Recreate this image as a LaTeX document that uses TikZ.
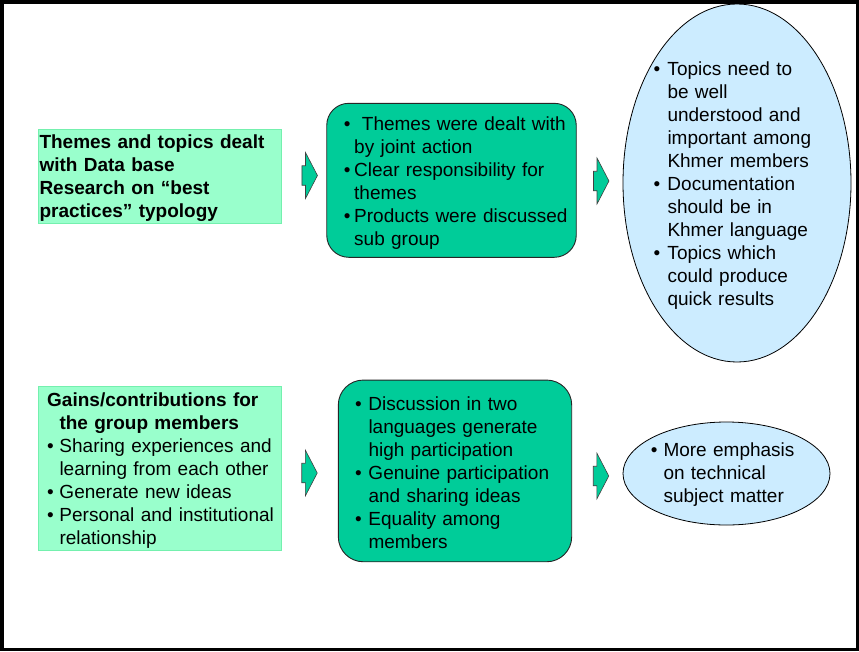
\documentclass[tikz,border=0pt]{standalone}
\usepackage{fontspec}
\setmainfont{Liberation Sans}
\usetikzlibrary{shapes.geometric}

\definecolor{mint}{HTML}{99FFCC}
\definecolor{mintedge}{HTML}{74F0AE}
\definecolor{boxteal}{HTML}{00CC99}
\definecolor{skyfill}{HTML}{CCECFF}

% bulleted paragraph with hanging indent: #1 = indent, #2 = text
\newcommand{\bulletitem}[2]{\hangindent=#1\hangafter=1\noindent\makebox[#1][l]{•}\strut#2\par}
% unbulleted paragraph with the same hanging indent
\newcommand{\hangpara}[2]{\hangindent=#1\hangafter=1\noindent\strut#2\par}

\tikzset{
  lightbox/.style={draw=mintedge, fill=mint, line width=0.9pt, inner sep=0pt},
  tealbox/.style={draw=black!85, fill=boxteal, line width=0.9pt, inner sep=0pt},
  bubble/.style={ellipse, draw=black, fill=skyfill, line width=0.8pt, inner sep=0pt},
  bodytext/.style={anchor=north west, inner sep=0pt, align=left, text width=260pt,
    font=\fontsize{19}{23}\selectfont},
  arrowshape/.style={draw=black!75, fill=boxteal, line width=0.6pt},
  pics/blockarrow/.style={code={
    \path[arrowshape] (-7.75,-9.75) -- (-4.2,-9.75) -- (-4.2,-23) -- (7.75,0)
      -- (-4.2,23) -- (-4.2,9.75) -- (-7.75,9.75) -- cycle;
  }},
}

\begin{document}
\begin{tikzpicture}[x=1pt, y=-1pt]
\useasboundingbox (0,0) rectangle (859,651);

% outer frame
\draw[line width=3.5pt] (1.75,1.75) rectangle (857.25,649.25);

% ---- upper row ----
\node[lightbox, minimum width=243pt, minimum height=94pt] (themes) at (159.5,176) {};
\node[bodytext] (themestext) at (39.3,132.5) {\bfseries\strut Themes and topics dealt\newline
  with Data base\newline Research on “best\newline practices” typology};

\pic (arrowA) at (309.7,175.5) {blockarrow};

\node[tealbox, rounded corners=22pt, minimum width=249.5pt, minimum height=154pt] (joint) at (451.5,180.3) {};
\node[bodytext] (jointtext) at (343.7,114.4) {%
  \bulletitem{10.3pt}{\hspace*{7.7pt}Themes were dealt with\newline by joint action}%
  \bulletitem{10.3pt}{Clear responsibility for\newline themes}%
  \bulletitem{10.3pt}{Products were discussed\newline sub group}};

\pic (arrowB) at (601.2,181) {blockarrow};

\node[bubble, minimum width=228pt, minimum height=358pt] (needs) at (737,183) {};
\node[bodytext] (needstext) at (653.4,58.9) {%
  \bulletitem{13.9pt}{Topics need to\newline be well\newline understood and\newline
    important among\newline Khmer members}%
  \bulletitem{13.9pt}{Documentation\newline should be in\newline Khmer language}%
  \bulletitem{13.9pt}{Topics which\newline could produce\newline quick results}};

% ---- lower row ----
\node[lightbox, minimum width=243pt, minimum height=164pt] (gains) at (159.5,468) {};
\node[bodytext] (gainstext) at (47,390.4) {%
  \hangpara{12.3pt}{{\bfseries Gains/contributions for\newline the group members}}%
  \bulletitem{12.3pt}{Sharing experiences and\newline learning from each other}%
  \bulletitem{12.3pt}{Generate new ideas}%
  \bulletitem{12.3pt}{Personal and institutional\newline relationship}};

\pic (arrowC) at (309.5,473) {blockarrow};

\node[tealbox, rounded corners=25pt, minimum width=233.4pt, minimum height=181.7pt] (talk) at (455,470.9) {};
\node[bodytext] (talktext) at (355,394.4) {%
  \bulletitem{13.3pt}{Discussion in two\newline languages generate\newline high participation}%
  \bulletitem{13.3pt}{Genuine participation\newline and sharing ideas}%
  \bulletitem{13.3pt}{Equality among\newline members}};

\pic (arrowD) at (601,476) {blockarrow};

\node[bubble, minimum width=207pt, minimum height=103pt] (emphasis) at (726.5,473.5) {};
\node[bodytext] (emphasistext) at (650.7,439.9) {%
  \bulletitem{12.6pt}{More emphasis\newline on technical\newline subject matter}};
\end{tikzpicture}
\end{document}
